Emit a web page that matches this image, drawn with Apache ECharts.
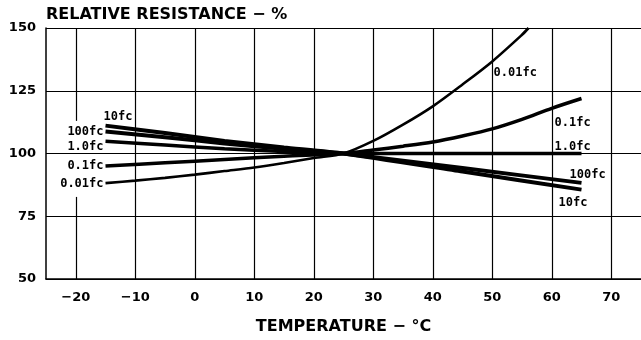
<!DOCTYPE html>
<html>
<head>
<meta charset="utf-8">
<script src="https://cdn.jsdelivr.net/npm/echarts@6/dist/echarts.min.js"></script>
<style>html,body{margin:0;padding:0;background:#fff;}#c{width:641px;height:340px;}</style>
</head>
<body>
<div id="c"></div>
<script>
// Tick values
const xTicks = [-20, -10, 0, 10, 20, 30, 40, 50, 60, 70];
const yTicks = [50, 75, 100, 125, 150];

// Curves: temperature (°C) and relative resistance (%)
const t10fc = [-15, -5, 5, 15, 25, 45, 65];
const v10fc = [111.1, 108.2, 105.0, 102.4, 100, 92.8, 85.6];

const t100fc = [-15, -5, 5, 15, 25, 45, 65];
const v100fc = [108.8, 106.5, 104.0, 101.9, 100, 94.2, 88.3];

const t1fc = [-15, -5, 5, 15, 25, 45, 65];
const v1fc = [104.9, 103.4, 101.9, 100.8, 100, 100, 100];

const t01fc = [-15, -5, 5, 15, 25, 30, 35, 40, 45, 50, 55, 60, 65];
const v01fc = [95.0, 96.3, 97.6, 98.9, 100, 101.4, 102.9, 104.6, 107.0, 109.8, 113.6, 118.0, 121.9];

const t001fc = [-15, -10, -5, 0, 5, 10, 15, 20, 25, 30, 35, 40, 45, 50, 55, 56.1];
const v001fc = [88.2, 89.2, 90.3, 91.6, 93.0, 94.4, 96.2, 98.2, 100, 105.0, 111.5, 118.8, 127.5, 136.7, 147.3, 150];

const names = ['10fc', '100fc', '1.0fc', '0.1fc', '0.01fc'];

const labelFont = { fontFamily: 'DejaVu Sans Mono', fontWeight: 'bold', fontSize: 12, color: '#000' };

function pairs(t, v) { return t.map((x, i) => [x, v[i]]); }

function endLabels(t, v, name, left, right) {
  const n = t.length - 1;
  return {
    symbol: 'circle', symbolSize: 0, silent: true,
    label: Object.assign({ show: true, position: 'inside', verticalAlign: 'middle', formatter: name }, labelFont),
    data: [
      { coord: [t[0], v[0]], label: { align: left.align, offset: left.offset } },
      { coord: [t[n], v[n]], label: { align: right.align, offset: right.offset } }
    ]
  };
}

function curve(name, t, v, width, left, right, smooth) {
  return {
    name: name, type: 'line', z: 5,
    data: pairs(t, v),
    smooth: smooth, showSymbol: false, symbol: 'none',
    lineStyle: { color: '#000', width: width },
    markPoint: endLabels(t, v, name, left, right)
  };
}

const gridXFull = xTicks.filter(v => v !== -20);

const chart = echarts.init(document.getElementById('c'), null, { renderer: 'canvas' });
chart.setOption({
  animation: false,
  backgroundColor: '#fff',
  title: {
    text: 'RELATIVE RESISTANCE − %',
    left: 46, top: 7, padding: 0,
    textStyle: { fontFamily: 'DejaVu Sans', fontSize: 16, fontWeight: 'bold', color: '#000' }
  },
  grid: { left: 46, top: 28, bottom: 58, right: -5, containLabel: false },
  xAxis: {
    type: 'value', min: -25, max: 75,
    name: 'TEMPERATURE − °C', nameLocation: 'middle', nameGap: 40,
    nameTextStyle: { fontFamily: 'DejaVu Sans', fontSize: 16, fontWeight: 'bold', color: '#000' },
    axisLine: { show: true, onZero: false, lineStyle: { color: '#000', width: 1.5 } },
    axisTick: { show: false },
    splitLine: { show: false },
    axisLabel: {
      customValues: xTicks, margin: 12,
      formatter: v => String(v).replace('-', '−'),
      fontFamily: 'DejaVu Sans', fontWeight: 'bold', fontSize: 13, color: '#000'
    }
  },
  yAxis: {
    type: 'value', min: 50, max: 150, interval: 25,
    axisLine: { show: true, onZero: false, lineStyle: { color: '#000', width: 1.5 } },
    axisTick: { show: false },
    splitLine: { show: true, lineStyle: { color: '#000', width: 1.2 } },
    axisLabel: {
      margin: 10,
      fontFamily: 'DejaVu Sans', fontWeight: 'bold', fontSize: 13, color: '#000'
    }
  },
  series: [
    {
      name: 'grid', type: 'line', data: [], z: 1, silent: true,
      markLine: {
        silent: true, symbol: 'none', label: { show: false },
        lineStyle: { color: '#000', width: 1.2, type: 'solid' },
        data: gridXFull.map(v => ({ xAxis: v })).concat([
          [{ coord: [xTicks[0], yTicks[4]] }, { coord: [xTicks[0], 113] }],
          [{ coord: [xTicks[0], 82.7] }, { coord: [xTicks[0], yTicks[0]] }]
        ])
      }
    },
    curve(names[0], t10fc, v10fc, 4, { align: 'left', offset: [-2, -9] }, { align: 'left', offset: [-23, 13] }, 0.2),
    curve(names[1], t100fc, v100fc, 4, { align: 'right', offset: [-2, 0] }, { align: 'left', offset: [-12, -8] }, 0.2),
    curve(names[2], t1fc, v1fc, 3.5, { align: 'right', offset: [-2, 6] }, { align: 'left', offset: [-27, -7] }, 0.2),
    curve(names[3], t01fc, v01fc, 3.5, { align: 'right', offset: [-2, 0] }, { align: 'left', offset: [-27, 24] }, 0.3),
    curve(names[4], t001fc, v001fc, 2.6, { align: 'right', offset: [-2, 1] }, { align: 'left', offset: [-35, 45] }, 0.3)
  ]
});
</script>
</body>
</html>
